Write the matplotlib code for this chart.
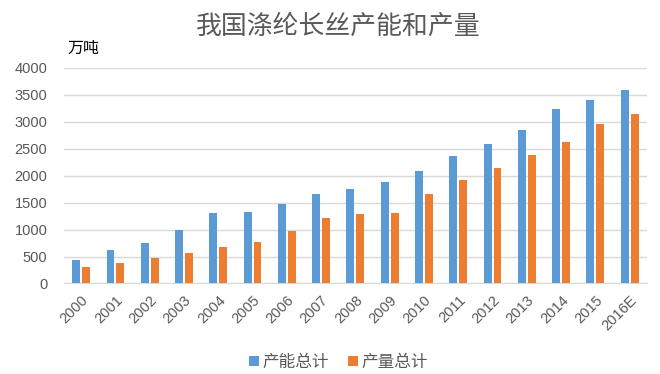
import matplotlib
matplotlib.use("Agg")
import matplotlib.pyplot as plt
import numpy as np

plt.rcParams['font.family'] = ['Liberation Sans', 'Noto Sans CJK SC', 'DejaVu Sans']

years = ["2000", "2001", "2002", "2003", "2004", "2005", "2006", "2007", "2008",
         "2009", "2010", "2011", "2012", "2013", "2014", "2015", "2016E"]
capacity = [435, 620, 755, 1000, 1300, 1325, 1470, 1650, 1745,
            1890, 2080, 2365, 2585, 2845, 3230, 3400, 3590]
output = [310, 385, 475, 560, 680, 775, 975, 1215, 1280,
          1315, 1660, 1920, 2145, 2380, 2620, 2960, 3150]

blue = "#5B9BD5"
orange = "#ED7D31"
gray_text = "#595959"

fig = plt.figure(figsize=(6.6, 3.74), dpi=100)
ax = fig.add_axes([0.097, 0.242, 0.883, 0.577])

x = np.arange(len(years))
w = 0.23
ax.bar(x - 0.145, capacity, w, color=blue, label="产能总计", zorder=3)
ax.bar(x + 0.145, output, w, color=orange, label="产量总计", zorder=3)

ax.set_xlim(-0.5, len(years) - 0.5)
ax.set_ylim(0, 4000)
ax.set_yticks(np.arange(0, 4001, 500))
ax.yaxis.grid(True, color="#D9D9D9", linewidth=1, zorder=0)
ax.set_xticks(x)
ax.set_xticklabels(years, rotation=45, ha="right", rotation_mode="anchor")
ax.tick_params(axis="both", length=0, labelsize=10.5, colors=gray_text)
ax.tick_params(axis="x", pad=7)
ax.tick_params(axis="y", pad=12)
for s in ["top", "right", "left"]:
    ax.spines[s].set_visible(False)
ax.spines["bottom"].set_color("#D9D9D9")

fig.text(0.513, 0.93, "我国涤纶长丝产能和产量", ha="center", va="center",
         fontsize=18.6, color=gray_text)
fig.text(0.102, 0.872, "万吨", ha="left", va="center", fontsize=11.5,
         color="black", fontweight="medium")

fig.legend(loc="center", bbox_to_anchor=(0.513, 0.032), ncol=2, frameon=False,
           fontsize=12, handlelength=0.6, handleheight=0.6, handletextpad=0.25,
           columnspacing=1.1, labelcolor=gray_text)

fig.savefig("out.png", dpi=100)
